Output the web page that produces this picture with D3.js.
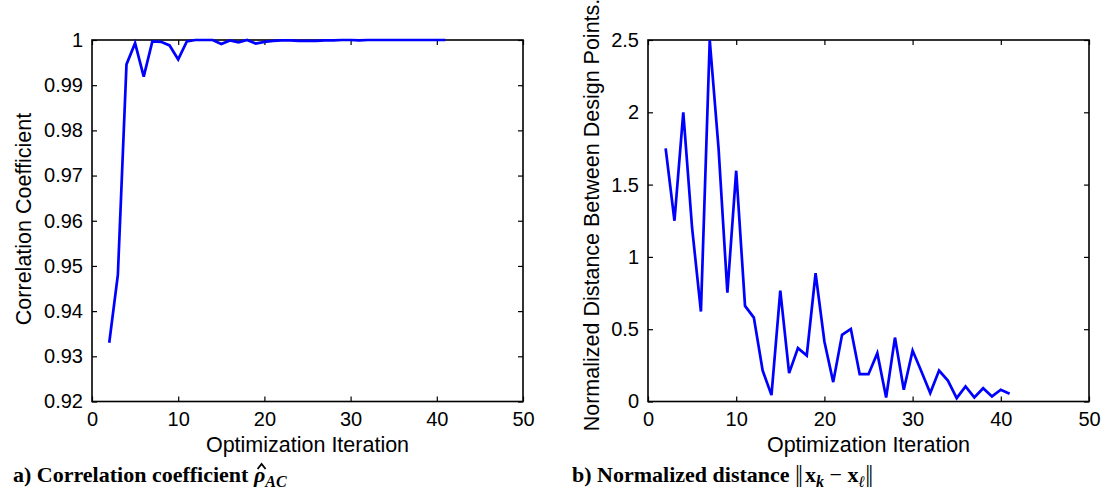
<!DOCTYPE html>
<html>
<head>
<meta charset="utf-8">
<script src="https://cdn.jsdelivr.net/npm/d3@7"></script>
<style>
  body { margin: 0; background: #fff; }
  svg { display: block; }
  .tick text { font-family: "Liberation Sans", Arial, sans-serif; font-size: 20px; fill: #000; }
  .axis-label { font-family: "Liberation Sans", Arial, sans-serif; font-size: 21.5px; fill: #000; }
  .caption { font-family: "Liberation Serif", "Times New Roman", serif; font-size: 22px; font-weight: bold; fill: #000; }
</style>
</head>
<body>
<svg id="chart"></svg>
<script>
// iterations shared by both panels
var iterations = [2, 3, 4, 5, 6, 7, 8, 9, 10, 11, 12, 13, 14, 15, 16, 17, 18, 19, 20, 21,
                  22, 23, 24, 25, 26, 27, 28, 29, 30, 31, 32, 33, 34, 35, 36, 37, 38, 39, 40, 41];

// a) correlation coefficient
var corrValues = [0.933, 0.948, 0.9946, 0.9993, 0.9919, 0.9997, 0.9996, 0.9988, 0.9957, 0.9997,
                  1.0, 1.0, 1.0, 0.9991, 0.9999, 0.9995, 1.0, 0.9992, 0.9996, 0.9998,
                  0.9999, 0.9999, 0.9998, 0.9998, 0.9998, 0.9999, 0.9999, 1.0, 1.0, 0.9999,
                  1.0, 1.0, 1.0, 1.0, 1.0, 1.0, 1.0, 1.0, 1.0, 1.0];

// b) normalized distance between design points
var distValues = [1.75, 1.25, 2.0, 1.2, 0.622, 2.5, 1.75, 0.753, 1.596, 0.661,
                  0.58, 0.214, 0.044, 0.767, 0.196, 0.369, 0.318, 0.887, 0.415, 0.134,
                  0.461, 0.502, 0.189, 0.189, 0.334, 0.028, 0.442, 0.081, 0.352, 0.207,
                  0.058, 0.214, 0.145, 0.023, 0.104, 0.028, 0.092, 0.035, 0.081, 0.053];

var xTicks = [0, 10, 20, 30, 40, 50];
var xTickLabels = ["0", "10", "20", "30", "40", "50"];
var corrTicks = [0.92, 0.93, 0.94, 0.95, 0.96, 0.97, 0.98, 0.99, 1];
var corrTickLabels = ["0.92", "0.93", "0.94", "0.95", "0.96", "0.97", "0.98", "0.99", "1"];
var distTicks = [0, 0.5, 1, 1.5, 2, 2.5];
var distTickLabels = ["0", "0.5", "1", "1.5", "2", "2.5"];

var W = 1106, H = 496;
var svg = d3.select("#chart").attr("width", W).attr("height", H);

function drawPanel(p) {
    var g = svg.append("g");
    var x = d3.scaleLinear().domain([0, 50]).range([p.left, p.right]);
    var y = d3.scaleLinear().domain(p.yDomain).range([p.bottom, p.top]);

    // bottom + top ticks (inward)
    g.append("g").attr("transform", `translate(0, ${p.bottom})`)
        .call(d3.axisBottom(x).tickValues(xTicks).tickSize(-5).tickPadding(10)
            .tickFormat((d, i) => xTickLabels[i]));
    g.append("g").attr("transform", `translate(0, ${p.top})`)
        .call(d3.axisTop(x).tickValues(xTicks).tickSize(-5).tickFormat(""));
    // left + right ticks (inward)
    g.append("g").attr("transform", `translate(${p.left}, 0)`)
        .call(d3.axisLeft(y).tickValues(p.yTicks).tickSize(-5).tickPadding(9)
            .tickFormat((d, i) => p.yTickLabels[i]));
    g.append("g").attr("transform", `translate(${p.right}, 0)`)
        .call(d3.axisRight(y).tickValues(p.yTicks).tickSize(-5).tickFormat(""));

    g.selectAll(".domain").remove();
    g.selectAll(".tick line").attr("stroke", "#000").attr("stroke-width", 1.2);
    g.selectAll(".tick text").attr("font-family", null).attr("font-size", null);

    g.append("rect")
        .attr("x", p.left).attr("y", p.top)
        .attr("width", p.right - p.left).attr("height", p.bottom - p.top)
        .attr("fill", "none").attr("stroke", "#000").attr("stroke-width", 1.6);

    var pts = iterations.map((it, i) => ({ x: it, y: p.values[i] }));
    g.append("path")
        .datum(pts)
        .attr("fill", "none")
        .attr("stroke", "#0000ff")
        .attr("stroke-width", 2.7)
        .attr("d", d3.line().x(d => x(d.x)).y(d => y(d.y)));

    g.append("text").attr("class", "axis-label")
        .attr("x", (p.left + p.right) / 2).attr("y", 452)
        .attr("text-anchor", "middle")
        .text("Optimization Iteration");

    g.append("text").attr("class", "axis-label")
        .attr("transform", `translate(${p.yLabelX}, ${p.yLabelY}) rotate(-90)`)
        .attr("text-anchor", "middle")
        .text(p.yLabel);
}

drawPanel({
    left: 92, right: 523, top: 40, bottom: 401.5,
    yDomain: [0.92, 1], yTicks: corrTicks, yTickLabels: corrTickLabels,
    values: corrValues,
    yLabel: "Correlation Coefficient", yLabelX: 31, yLabelY: 219
});

drawPanel({
    left: 648, right: 1089, top: 40, bottom: 401.5,
    yDomain: [0, 2.5], yTicks: distTicks, yTickLabels: distTickLabels,
    values: distValues,
    yLabel: "Normalized Distance Between Design Points.", yLabelX: 599, yLabelY: 215
});

// captions
var capY = 482;
var capA = svg.append("text").attr("class", "caption").attr("x", 13).attr("y", capY);
capA.append("tspan").text("a) Correlation coefficient ");
capA.append("tspan").attr("font-style", "italic").text("\u03C1");
capA.append("tspan").attr("font-style", "italic").attr("font-size", "16px").attr("dy", 5).text("AC");

// hat over rho, placed from the glyph's own extent
var rhoIdx = "a) Correlation coefficient ".length;
var ext = capA.node().getExtentOfChar(rhoIdx);
var hx = ext.x + ext.width / 2 + 2;
svg.append("path")
    .attr("d", `M${hx - 4},${capY - 13} L${hx},${capY - 18} L${hx + 4},${capY - 13}`)
    .attr("fill", "none").attr("stroke", "#000").attr("stroke-width", 1.8);

var capB = svg.append("text").attr("class", "caption").attr("x", 572).attr("y", capY);
capB.append("tspan").text("b) Normalized distance ");
capB.append("tspan").attr("font-weight", "normal").attr("font-size", "25px")
    .attr("letter-spacing", "-2").text("||");
capB.append("tspan").attr("dx", 4).text("x");
capB.append("tspan").attr("font-style", "italic").attr("font-size", "16px").attr("dy", 5).text("k");
capB.append("tspan").attr("font-weight", "normal").attr("dy", -5).text(" \u2212 ");
capB.append("tspan").text("x");
capB.append("tspan").attr("font-style", "italic").attr("font-size", "16px").attr("dy", 5).text("\u2113");
capB.append("tspan").attr("font-weight", "normal").attr("font-size", "25px").attr("dy", -5)
    .attr("letter-spacing", "-2").text("||");
</script>
</body>
</html>
